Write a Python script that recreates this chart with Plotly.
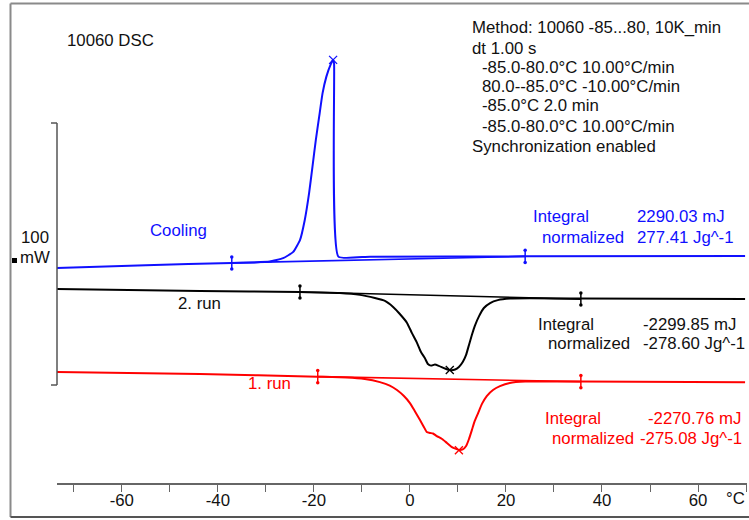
import plotly.graph_objects as go

# ---------------- data (temperature in °C, heat flow in mW, arbitrary offsets) -------------
blue_temp = [-73.5, -55.0, -37.1, -32.3, -29.2, -26.4, -24.3, -22.9, -21.9, -21.0, -20.3,
             -19.6, -18.9, -18.2, -17.4, -16.5, -16.0, -15.8, -14.9, -8.3, 24.0, 69.8]
blue_mw = [82.1, 83.1, 84.0, 84.2, 84.5, 85.8, 88.2, 92.7, 100.4, 110.6, 120.7,
           130.9, 139.8, 148.7, 155.1, 159.8, 161.5, 160.2, 86.4, 86.4, 86.5, 86.6]

black_temp = [-73.5, -43.75, -22.9, -14.6, -10.4, -7.3, -5.2, -3.5, -2.1, -0.6, 0.4, 1.5,
              2.3, 3.1, 3.75, 4.4, 5.2, 6.0, 7.3, 8.3, 9.4, 10.2, 11.0, 11.7, 12.3, 12.9,
              13.5, 14.4, 15.4, 16.7, 18.3, 20.8, 25.0, 35.6, 69.8]
black_mw = [74.0, 73.3, 72.9, 72.5, 71.8, 70.6, 69.5, 67.2, 64.5, 61.1, 57.3, 53.4,
            50.0, 47.7, 45.4, 44.8, 45.2, 44.7, 43.7, 43.1, 43.3, 44.3, 46.2, 48.9, 52.7, 56.5,
            59.9, 63.7, 66.8, 68.7, 69.8, 70.4, 70.5, 70.4, 70.2]

red_temp = [-73.5, -43.75, -19.2, -13.1, -9.4, -6.25, -4.2, -2.7, -1.25, 0.0, 1.0, 2.1,
            2.9, 3.5, 4.2, 4.8, 5.6, 6.7, 7.7, 8.75, 9.6, 10.2, 11.0, 11.7, 12.3, 12.9,
            13.5, 14.2, 15.0, 16.0, 17.3, 18.75, 20.8, 24.0, 35.6, 69.8]
red_mw = [42.4, 41.6, 40.6, 40.3, 39.7, 38.5, 37.2, 35.5, 33.2, 30.5, 27.5, 24.0,
          21.4, 19.5, 19.1, 18.9, 17.9, 16.8, 15.3, 13.7, 13.0, 12.6, 12.8, 14.1, 16.8, 20.2,
          23.7, 26.7, 30.2, 33.2, 35.5, 37.0, 38.2, 38.7, 38.7, 38.5]

# integration limits (baselines)
blue_limit_temp = [-37.1, 24.0]
blue_limit_mw = [84.0, 86.5]
black_limit_temp = [-22.9, 35.6]
black_limit_mw = [72.9, 70.2]
red_limit_temp = [-19.2, 35.6]
red_limit_mw = [40.6, 38.7]

# peaks
peak_temp = [-16.0, 8.3, 10.2]
peak_mw = [161.5, 43.1, 12.5]

# scale bar
scale_bar_mw = 100
scale_bar_bottom_mw = 37.4

# axis ticks
tick_vals = [-70, -60, -50, -40, -30, -20, -10, 0, 10, 20, 30, 40, 50, 60, 70]
tick_text = ["", "-60", "", "-40", "", "-20", "", "0", "", "20", "", "40", "", "60", ""]

method_lines = ["Method: 10060 -85...80, 10K_min", "dt 1.00 s", "-85.0-80.0°C 10.00°C/min",
                "80.0--85.0°C -10.00°C/min", "-85.0°C 2.0 min", "-85.0-80.0°C 10.00°C/min",
                "Synchronization enabled"]
integral_blue = ["2290.03 mJ", "277.41 Jg^-1"]
integral_black = ["-2299.85 mJ", "-278.60 Jg^-1"]
integral_red = ["-2270.76 mJ", "-275.08 Jg^-1"]

# ---------------- style / layout ----------------
W, H = 749, 520
L, R, T, B = 57, 2, 10, 37
PW, PH = W - L - R, H - T - B
BLUE, BLACK, RED = "#1010ff", "#000000", "#ff0000"
FONT = "Arial, 'Liberation Sans', sans-serif"
FS = 16.8


def px(x):
    return (x - L) / PW


def py(y):
    return (H - B - y) / PH


fig = go.Figure()


def add_series(t, v, lt, lv, color):
    fig.add_trace(go.Scatter(x=t, y=v, mode="lines", line=dict(color=color, width=2,
                             shape="spline", smoothing=0.4), hoverinfo="skip"))
    fig.add_trace(go.Scatter(x=lt, y=lv, mode="lines", line=dict(color=color, width=1.6),
                             hoverinfo="skip"))
    xs, ys = [], []
    for a, b in zip(lt, lv):
        xs += [a, a, None]
        ys += [b - 2.3, b + 2.3, None]
    fig.add_trace(go.Scatter(x=xs, y=ys, mode="lines+markers", line=dict(color=color, width=1.5),
                             marker=dict(size=3.5, color=color), hoverinfo="skip"))


add_series(blue_temp, blue_mw, blue_limit_temp, blue_limit_mw, BLUE)
add_series(black_temp, black_mw, black_limit_temp, black_limit_mw, BLACK)
add_series(red_temp, red_mw, red_limit_temp, red_limit_mw, RED)

fig.add_trace(go.Scatter(x=peak_temp, y=peak_mw, mode="markers",
                         marker=dict(symbol="x-thin", size=8,
                                     line=dict(width=1.3, color=[BLUE, BLACK, RED])),
                         hoverinfo="skip"))

shapes = []
# outer frame
frame = "#8a8a8a"
shapes.append(dict(type="line", xref="paper", yref="paper", x0=px(10.5), x1=1.02, y0=py(3.5), y1=py(3.5),
                   line=dict(color=frame, width=2)))
shapes.append(dict(type="line", xref="paper", yref="paper", x0=px(10.5), x1=px(10.5), y0=py(3.5), y1=py(517),
                   line=dict(color=frame, width=2)))
shapes.append(dict(type="line", xref="paper", yref="paper", x0=px(10.5), x1=1.02, y0=py(517), y1=py(517),
                   line=dict(color="#555555", width=2)))
# scale bar
sb_top = scale_bar_bottom_mw + scale_bar_mw
shapes.append(dict(type="line", xref="paper", yref="y", x0=0, x1=0, y0=scale_bar_bottom_mw, y1=sb_top,
                   line=dict(color="#555555", width=1.5)))
for yv in (scale_bar_bottom_mw, sb_top):
    shapes.append(dict(type="line", xref="paper", yref="y", x0=px(51), x1=0, y0=yv, y1=yv,
                       line=dict(color="#555555", width=1.5)))
shapes.append(dict(type="rect", xref="paper", yref="paper", x0=px(12), x1=px(17), y0=py(263), y1=py(258),
                   line=dict(width=0), fillcolor="#000000"))

ann = []


def text(s, x, y, color="#111111", xanchor="left"):
    ann.append(dict(text=s, x=px(x), y=py(y), xref="paper", yref="paper", showarrow=False,
                    xanchor=xanchor, yanchor="middle", font=dict(family=FONT, size=FS, color=color),
                    borderpad=0))


text("10060 DSC", 66, 40)
method_y = [28, 48, 67, 87, 106, 126, 146]
method_x = [471, 471, 481, 481, 481, 481, 471]
for s, xx, yy in zip(method_lines, method_x, method_y):
    text(s, xx, yy)
text("Cooling", 149, 231, BLUE)
text("100", 35, 237, xanchor="center")
text("mW", 35, 257, xanchor="center")
text("2. run", 177, 303)
text("1. run", 247, 383, RED)

text("Integral", 532, 217, BLUE)
text("normalized", 541, 237, BLUE)
text(integral_blue[0], 636, 217, BLUE)
text(integral_blue[1], 636, 237, BLUE)

text("Integral", 537, 324)
text("normalized", 547, 343)
text(integral_black[0], 642, 324)
text(integral_black[1], 642, 343)

text("Integral", 544, 418, RED)
text("normalized", 551, 438, RED)
text(integral_red[0], 647, 418, RED)
text(integral_red[1], 639, 438, RED)

text("°C", 735, 499, xanchor="center")

fig.update_layout(
    width=W, height=H, margin=dict(l=L, r=R, t=T, b=B),
    paper_bgcolor="white", plot_bgcolor="white", showlegend=False,
    font=dict(family=FONT, size=FS, color="#111111"),
    shapes=shapes, annotations=ann,
    xaxis=dict(range=[-73.5, 70.2], showgrid=False, zeroline=False, showline=True,
               linecolor="#666666", linewidth=1.5, ticks="outside", ticklen=7, tickwidth=1.2,
               tickcolor="#666666", tickvals=tick_vals, ticktext=tick_text,
               ticklabelstandoff=-6,
               tickfont=dict(family=FONT, size=FS, color="#111111")),
    yaxis=dict(range=[0, PH / 2.62], visible=False, showgrid=False, zeroline=False),
)

fig.write_html("out.html", config={"displayModeBar": False},
               post_script="document.body.style.margin='0';document.body.style.padding='0';")
